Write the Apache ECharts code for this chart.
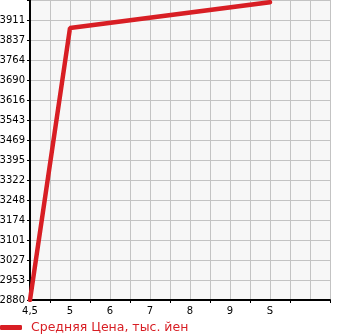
<!DOCTYPE html>
<html>
<head>
<meta charset="utf-8">
<script src="https://cdn.jsdelivr.net/npm/echarts@6/dist/echarts.min.js"></script>
<style>html,body{margin:0;padding:0;background:#fff}#c{width:345px;height:335px}</style>
</head>
<body>
<div id="c"></div>
<script>
var categories = ["4,5","","5","","6","","7","","8","","9","","S","","",""];
var priceValues = [2880,null,3881,null,null,null,null,null,null,null,null,null,3976,null,null,null];
var yTickLabels = ["2880","2953","3027","3101","3174","3248","3322","3395","3469","3543","3616","3690","3764","3837","3911",""];
var yMin = 2880, yStep = 73.6;
var seriesName = "Средняя Цена, тыс. йен";

var chart = echarts.init(document.getElementById('c'), null, {renderer:'canvas'});
chart.setOption({
  animation: false,
  textStyle: {fontFamily: 'DejaVu Sans'},
  grid: {left: 30, right: 15, top: 0, height: 300, show: true, backgroundColor: '#f7f7f7', borderWidth: 0, containLabel: false, outerBoundsMode: 'none'},
  legend: {
    left: 0, top: 321, padding: 0, itemWidth: 22, itemHeight: 5, icon: 'roundRect',
    data: [{name: seriesName, itemStyle: {color: '#d81e24'}}],
    textStyle: {color: '#d81e24', fontSize: 12.5, fontFamily: 'DejaVu Sans', padding: [0,0,0,4]}
  },
  xAxis: {
    type: 'category', data: categories, boundaryGap: false,
    axisLine: {lineStyle: {color: '#000', width: 2}},
    axisTick: {show: true, length: 3, interval: function(i){return i % 2 === 1;}, lineStyle: {color: '#000'}},
    axisLabel: {interval: 0, color: '#000', fontSize: 10, margin: 6},
    splitLine: {show: true, interval: 0, lineStyle: {color: '#c3c3c3', width: 1}}
  },
  yAxis: [
    {type: 'value', min: yMin, max: yMin + 15 * yStep, show: false, splitLine: {show: false}},
    {type: 'value', min: 0, max: 15, interval: 1, position: 'left',
     axisLine: {show: true, lineStyle: {color: '#000', width: 2}},
     axisTick: {show: true, length: 3, lineStyle: {color: '#000'}},
     axisLabel: {color: '#000', fontSize: 10, margin: 5, padding: [0,0,8,0], formatter: function(v){return yTickLabels[Math.round(v)] || '';}},
     splitLine: {show: true, lineStyle: {color: '#c3c3c3', width: 1}}
    }
  ],
  series: [{
    name: seriesName, type: 'line', yAxisIndex: 0, data: priceValues, connectNulls: true,
    showSymbol: false, symbol: 'none',
    lineStyle: {color: '#d81e24', width: 4.5, cap: 'round'},
    itemStyle: {color: '#d81e24'}
  }]
});
</script>
</body>
</html>
